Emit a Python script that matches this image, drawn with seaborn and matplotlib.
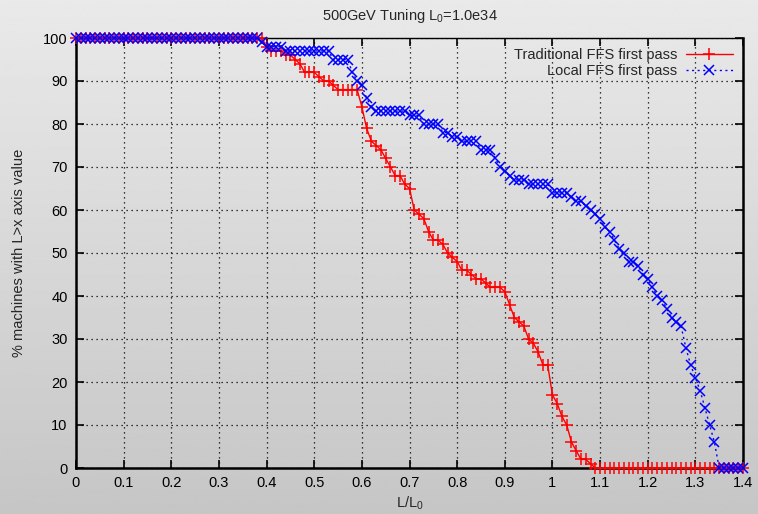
import numpy as np
import pandas as pd
import matplotlib
matplotlib.use("Agg")
import matplotlib.pyplot as plt
import seaborn as sns

# sample grid of L/L0 (0.00 .. 1.40 every 0.01)
x_vals = [round(i * 0.01, 2) for i in range(141)]

traditional = (
    [100] * 40 +
    [98, 97, 97, 97, 96, 96, 95, 94, 92, 92,
     92, 91, 90, 90, 89, 88, 88, 88, 88, 88,
     84, 79, 76, 75, 74, 72, 70, 68, 68, 66,
     65, 60, 59, 58, 55, 53, 53, 52, 50, 49,
     48, 46, 46, 45, 44, 44, 43, 42, 42, 42,
     41, 38, 35, 34, 33, 30, 29, 27, 24, 24,
     17, 15, 12, 10, 6, 4, 2, 2, 1] +
    [0] * 32
)

local = (
    [100] * 39 +
    [99, 98, 98, 98, 98] +
    [97] * 10 +
    [95, 95, 95, 95, 92, 90, 89, 86, 84] +
    [83] * 7 +
    [82, 82, 82, 80, 80, 80, 80, 78, 78, 77,
     77, 76, 76, 76, 76, 74, 74, 74, 72, 70,
     69, 68, 67, 67, 67, 66, 66, 66, 66, 66,
     64, 64, 64, 64, 63, 62, 62, 61, 60, 59,
     58, 56, 55, 53, 51, 50, 48, 48, 47, 45,
     44, 42, 40, 39, 37, 35, 34, 33, 28, 24,
     21, 18, 14, 10, 6] +
    [0] * 6
)

labels = ["Traditional FFS first pass", "Local FFS first pass"]
x_ticks = [0, 0.1, 0.2, 0.3, 0.4, 0.5, 0.6, 0.7, 0.8, 0.9, 1.0, 1.1, 1.2, 1.3, 1.4]
x_ticklabels = ["0", "0.1", "0.2", "0.3", "0.4", "0.5", "0.6", "0.7", "0.8",
                "0.9", "1", "1.1", "1.2", "1.3", "1.4"]
y_ticks = [0, 10, 20, 30, 40, 50, 60, 70, 80, 90, 100]

sns.set_theme(style="ticks")
plt.rcParams["font.family"] = ["Liberation Sans", "DejaVu Sans"]
plt.rcParams["mathtext.default"] = "regular"

fig = plt.figure(figsize=(7.58, 5.14), dpi=100)

# gradient background
bg = fig.add_axes([0, 0, 1, 1], zorder=-10)
grad = np.linspace(0.915, 0.775, 256).reshape(-1, 1)
bg.imshow(grad, aspect="auto", cmap="gray", vmin=0, vmax=1, extent=[0, 1, 0, 1])
bg.set_axis_off()

ax = fig.add_axes([76 / 758, 1 - 468 / 514, (743 - 76) / 758, (468 - 38) / 514])
ax.set_facecolor("none")

df = pd.DataFrame({"x": x_vals, "trad": traditional, "local": local})

sns.lineplot(data=df, x="x", y="trad", ax=ax, color="#ff0000", linewidth=1.0,
             marker="+", markersize=8.5, markeredgewidth=1.1,
             markeredgecolor="#ff0000", label=labels[0],
             clip_on=False, zorder=3)
sns.lineplot(data=df, x="x", y="local", ax=ax, color="#0000ff", linewidth=1.0,
             linestyle=(0, (1.5, 2.5)), marker="x", markersize=7,
             markeredgewidth=1.1, markeredgecolor="#0000ff",
             label=labels[1], clip_on=False, zorder=4)

ax.set_xlim(0, 1.4)
ax.set_ylim(0, 100)
ax.set_xticks(x_ticks)
ax.set_xticklabels(x_ticklabels)
ax.set_yticks(y_ticks)
ax.grid(True, color="black", linestyle=(0, (1, 3)), linewidth=0.9)
ax.tick_params(direction="in", length=6, width=1.2, top=True, right=True,
               labelsize=10.5, colors="black", pad=6)
ax.tick_params(axis="x", labeltop=False)
ax.tick_params(axis="y", labelright=False)
for side in ["left", "bottom", "right"]:
    ax.spines[side].set_linewidth(1.8)
    ax.spines[side].set_color("black")
ax.spines["top"].set_linewidth(1.0)
ax.spines["top"].set_color("black")

ax.set_xlabel("L/L$_0$", fontsize=10.5, labelpad=3)
ax.set_ylabel("% machines with L>x axis value", fontsize=10.5, labelpad=12)
ax.set_title("500GeV Tuning L$_0$=1.0e34", fontsize=10.5, pad=13)

leg = ax.legend(loc="upper right", frameon=False, markerfirst=False,
                fontsize=10.5, handlelength=3.2, handletextpad=0.6,
                labelspacing=0.15, borderaxespad=0.3)

fig.savefig("out.png", dpi=100)
